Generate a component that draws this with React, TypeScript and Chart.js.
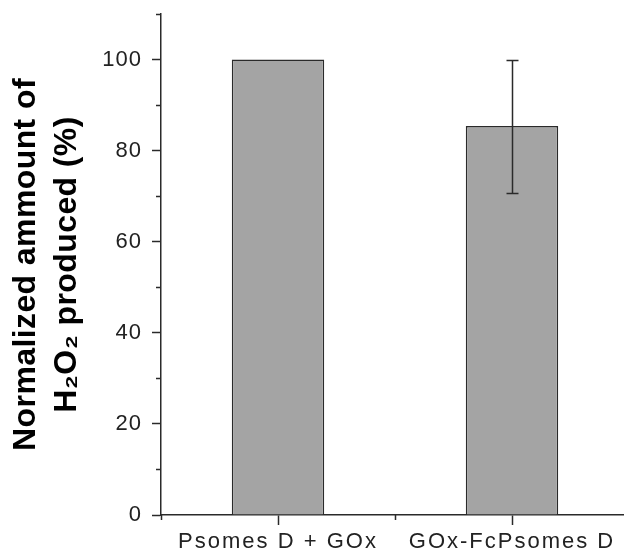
import React, { useEffect, useRef } from "react";
import { Chart, registerables } from "chart.js";

Chart.register(...registerables);

const categories = ["Psomes D + GOx", "GOx-FcPsomes D"];
const values = [100, 85.4];
const errors = [0, 14.6];
const yMin = 0;
const yMax = 110;
const yStep = 20;
const yMinorTicks = [10, 30, 50, 70, 90, 110];
const xMinorTicks = [-0.5, 0.5];

const FONT = "Liberation Sans, Arial, sans-serif";
const INK = "#2a2a2a";

const errorBarPlugin = {
  id: "errorBars",
  afterDatasetsDraw(chart: any) {
    const ctx = chart.ctx;
    const meta = chart.getDatasetMeta(0);
    const ys = chart.scales.y;
    ctx.save();
    ctx.strokeStyle = INK;
    ctx.lineWidth = 1.5;
    meta.data.forEach((el: any, i: number) => {
      const e = errors[i];
      if (!e) return;
      const x = Math.round(el.x) + 0.5;
      const yHi = Math.round(ys.getPixelForValue(values[i] + e)) + 0.5;
      const yLo = Math.round(ys.getPixelForValue(values[i] - e)) + 0.5;
      ctx.beginPath();
      ctx.moveTo(x, yHi);
      ctx.lineTo(x, yLo);
      ctx.moveTo(x - 6, yHi);
      ctx.lineTo(x + 6, yHi);
      ctx.moveTo(x - 6, yLo);
      ctx.lineTo(x + 6, yLo);
      ctx.stroke();
    });
    ctx.restore();
  },
};

const minorTickPlugin = {
  id: "minorTicks",
  afterDraw(chart: any) {
    const ctx = chart.ctx;
    const ys = chart.scales.y;
    const xs = chart.scales.x;
    const area = chart.chartArea;
    ctx.save();
    ctx.strokeStyle = INK;
    ctx.lineWidth = 1.5;
    ctx.beginPath();
    yMinorTicks.forEach((v) => {
      const y = Math.round(ys.getPixelForValue(v)) + 0.5;
      ctx.moveTo(area.left, y);
      ctx.lineTo(area.left - 5, y);
    });
    xMinorTicks.forEach((v) => {
      const x = Math.round(xs.getPixelForValue(v)) + 0.5;
      ctx.moveTo(x, area.bottom);
      ctx.lineTo(x, area.bottom + 5);
    });
    ctx.stroke();
    ctx.restore();
  },
};

function withSpacing(scale: any, method: string, spacing: string) {
  const key = "_sp_" + method;
  if (scale[key]) return;
  const orig = scale[method];
  scale[method] = function (...args: any[]) {
    const c = this.ctx as any;
    const prev = c.letterSpacing;
    c.letterSpacing = spacing;
    const r = orig.apply(this, args);
    c.letterSpacing = prev || "0px";
    return r;
  };
  scale[key] = true;
}

const spacingPlugin = {
  id: "letterSpacing",
  beforeDraw(chart: any) {
    withSpacing(chart.scales.x, "drawLabels", "2px");
    withSpacing(chart.scales.y, "drawLabels", "1px");
    withSpacing(chart.scales.y, "drawTitle", "0.4px");
  },
};

export default function App() {
  const ref = useRef<HTMLCanvasElement>(null);
  useEffect(() => {
    if (!ref.current) return;
    const chart = new Chart(ref.current, {
      type: "bar",
      data: {
        labels: categories,
        datasets: [
          {
            data: values,
            backgroundColor: "#a4a4a4",
            borderColor: INK,
            borderWidth: 1.5,
            barPercentage: 0.395,
            categoryPercentage: 1,
          },
        ],
      },
      options: {
        responsive: false,
        animation: false,
        layout: { padding: { left: 0, top: 14, right: 1, bottom: 0 } },
        plugins: { legend: { display: false }, tooltip: { enabled: false } },
        scales: {
          x: {
            offset: true,
            border: { display: true, color: INK, width: 1.5 },
            grid: {
              display: true,
              offset: false,
              drawOnChartArea: false,
              drawTicks: true,
              tickLength: 10,
              tickColor: INK,
              tickWidth: 1.5,
            },
            ticks: {
              color: "#222",
              padding: 4,
              maxRotation: 0,
              font: { family: FONT, size: 22 },
            },
            afterFit(scale: any) {
              scale.height = 37;
              scale.paddingLeft = 0;
              scale.paddingRight = 0;
            },
          },
          y: {
            min: yMin,
            max: yMax,
            border: { display: true, color: INK, width: 1.5 },
            grid: {
              display: true,
              drawOnChartArea: false,
              drawTicks: true,
              tickLength: 9,
              tickColor: INK,
              tickWidth: 1.5,
            },
            ticks: {
              stepSize: yStep,
              includeBounds: false,
              color: "#222",
              padding: 10,
              font: { family: FONT, size: 22 },
            },
            title: {
              display: true,
              text: ["Normalized ammount of", "H₂O₂ produced (%)"],
              color: "#000",
              padding: { top: 6, bottom: 0 },
              font: {
                family: FONT,
                size: 32,
                weight: "bold",
                lineHeight: 1.28,
              },
            },
            afterFit(scale: any) {
              scale.width = 161;
              scale.paddingTop = 0;
              scale.paddingBottom = 0;
            },
          },
        },
      },
      plugins: [errorBarPlugin, minorTickPlugin, spacingPlugin],
    });
    return () => chart.destroy();
  }, []);
  return (
    <div
      style={{
        position: "fixed",
        left: 0,
        top: 0,
        width: 624,
        height: 552,
        overflow: "hidden",
        background: "#fff",
      }}
    >
      <canvas ref={ref} width={630} height={552} style={{ display: "block" }} />
    </div>
  );
}
